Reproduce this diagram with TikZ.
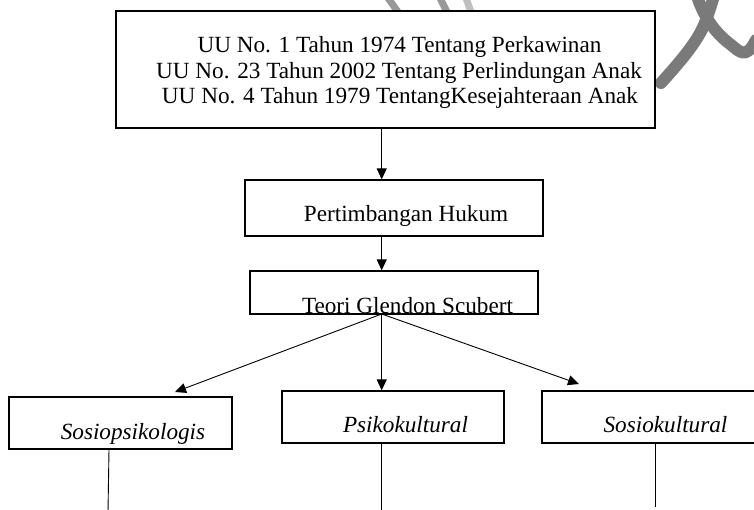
\documentclass[tikz,border=0pt]{standalone}
\usepackage{fontspec}
\setmainfont{Liberation Serif}
\usetikzlibrary{arrows.meta}
\begin{document}
\begin{tikzpicture}[x=1pt,y=-1pt,
  box/.style n args={2}{draw, fill=white, line width=1.2pt, inner sep=0pt, minimum width=#1, minimum height=#2},
  txt/.style={font=\fontsize{23.2}{26}\selectfont, anchor=base, inner sep=0pt},
  ittxt/.style={font=\fontsize{23.2}{26}\selectfont\itshape, anchor=base, inner sep=0pt},
  arr/.style={-{Triangle[length=11pt,width=10pt]}, line width=0.9pt},
  ln/.style={line width=0.9pt},
  wm/.style={line width=12pt, line cap=round, line join=round, draw=black!52},
  wmlight/.style={line width=7pt, line cap=round, draw=black!40}
]
\useasboundingbox (0,0) rectangle (754,510);
\clip (0,0) rectangle (754,510);
% watermark strokes
\draw[wm] (661,83) .. controls (680,62) and (697,42) .. (704,25) .. controls (709,12) .. (714,-4);
\draw[wm] (697,-4) .. controls (703,15) and (714,32) .. (730,44) .. controls (740,52) and (746,60) .. (756,40);
\draw[wmlight] (388,-2) -- (398,12);
\draw[wmlight] (440,-2) -- (447,12);
\draw[wmlight, draw=black!25] (466,-2) -- (471,12);
% boxes
\node[box={539pt}{117pt}] (top) at (385.5,69.5) {};
\node[txt] (t1) at (399.5,53) {UU No. 1 Tahun 1974 Tentang Perkawinan};
\node[txt] (t2) at (399,79) {UU No. 23 Tahun 2002 Tentang Perlindungan Anak};
\node[txt] (t3) at (400,104) {UU No. 4 Tahun 1979 TentangKesejahteraan Anak};
\node[box={298pt}{56pt}] (b2) at (394,208) {};
\node[txt] (b2t) at (406,222) {Pertimbangan Hukum};
\node[box={288pt}{43pt}] (b3) at (394,292.5) {};
\node[txt] (b3t) at (407.5,313) {Teori Glendon Scubert};
\node[box={223pt}{52pt}] (c1) at (120.5,423) {};
\node[ittxt] (c1t) at (133,439) {Sosiopsikologis};
\node[box={222pt}{52pt}] (c2) at (393,417) {};
\node[ittxt] (c2t) at (405.5,432) {Psikokultural};
\node[box={228pt}{52pt}] (c3) at (656,417) {};
\node[ittxt] (c3t) at (665.5,432) {Sosiokultural};
% connector points
\coordinate (ax) at (381.7,0);
\coordinate (src) at (381.7,314);
\coordinate (tl) at (175,392);
\coordinate (tr) at (579,384);
\coordinate (e1) at (108,512);
\coordinate (e2) at (381.7,512);
\coordinate (e3) at (655,507);
\coordinate (s1) at (109,0);
\coordinate (s3) at (655,0);
% arrows
\draw[arr] (top.south -| ax) -- (b2.north -| ax);
\draw[arr] (b2.south -| ax) -- (b3.north -| ax);
\draw[arr] (src) -- (tl);
\draw[arr] (src) -- (c2.north -| ax);
\draw[arr] (src) -- (tr);
% lines leaving the bottom boxes
\draw[ln] (c1.south -| s1) -- (e1);
\draw[ln] (c2.south -| ax) -- (e2);
\draw[ln] (c3.south -| s3) -- (e3);
\end{tikzpicture}
\end{document}
